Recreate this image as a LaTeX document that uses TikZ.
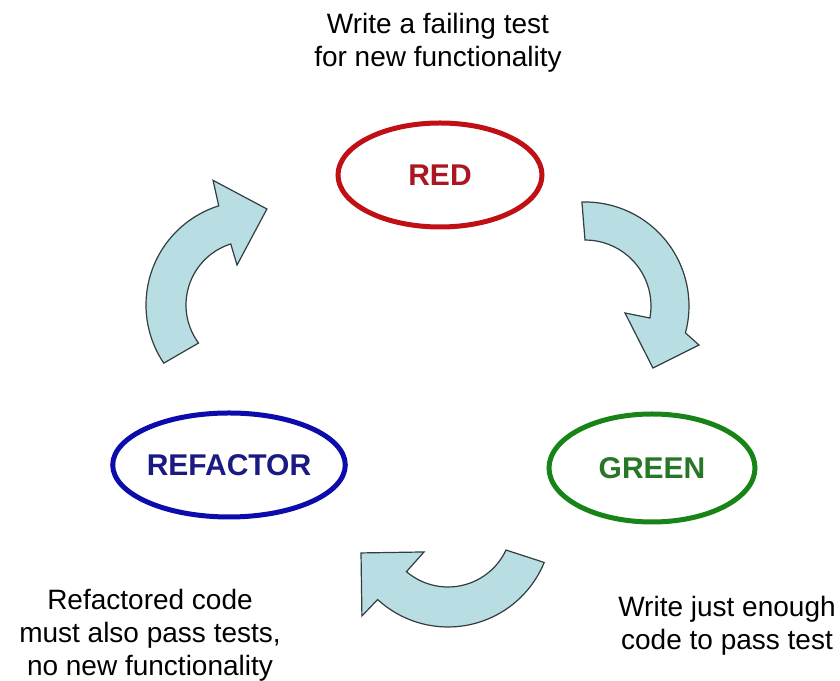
\documentclass[tikz,border=0pt]{standalone}
\usepackage{fontspec}
\setmainfont{Liberation Sans}
\usetikzlibrary{shapes.geometric}
\definecolor{redline}{RGB}{192,16,22}
\definecolor{redtext}{RGB}{172,22,34}
\definecolor{greenline}{RGB}{24,132,24}
\definecolor{greentext}{RGB}{40,118,40}
\definecolor{blueline}{RGB}{12,12,172}
\definecolor{bluetext}{RGB}{26,26,130}
\definecolor{arrowfill}{RGB}{184,221,227}
\definecolor{arrowline}{RGB}{50,62,62}
\tikzset{
  phase/.style={ellipse, line width=3.75pt, inner sep=0pt,
    font=\bfseries\fontsize{22.5}{27}\selectfont},
  note/.style={align=center, inner sep=0pt, anchor=base,
    font=\fontsize{21}{25}\selectfont},
  cyclearrow/.style={fill=arrowfill, draw=arrowline, line width=0.9pt, line join=miter}
}
\begin{document}
\begin{tikzpicture}[x=0.75pt, y=0.75pt]
\useasboundingbox (0,0) rectangle (840,681);

% phase ellipses
\node[phase, draw=redline, text=redtext, minimum width=153pt, minimum height=78pt] (red) at (440,506) {RED};
\node[phase, draw=greenline, text=greentext, minimum width=154.5pt, minimum height=81pt] (green) at (652,213) {GREEN};
\node[phase, draw=blueline, text=bluetext, minimum width=156pt, minimum height=78pt] (refactor) at (229,216) {REFACTOR};

% notes (base anchor = baseline of the last line)
\node[note] (rednote) at (438,614) {Write a failing test\\for new functionality};
\node[note] (greennote) at (727,31) {Write just enough\\code to pass test};
\node[note] (refnote) at (150,5) {Refactored code\\must also pass tests,\\no new functionality};

% curved block arrows (clockwise cycle)
\begin{scope}[shift={(250,376)}]
  \draw[cyclearrow] (214:104) arc[start angle=214, end angle=107.5, radius=104]
    -- (106.5:130) -- (80:97.5) -- (108:42) -- (107.5:64)
    arc[start angle=107.5, end angle=216.5, radius=64] -- cycle;
\end{scope}
\begin{scope}[shift={(585,375)}]
  \draw[cyclearrow] (91.7:104) arc[start angle=91.7, end angle=-15, radius=104]
    -- (-18.9:120.5) -- (-42.4:92) -- (-9.9:40.6) -- (-10.5:66)
    arc[start angle=-10.5, end angle=90, radius=66] -- cycle;
\end{scope}
\begin{scope}[shift={(448,158)}]
  \draw[cyclearrow] (-22.3:104) arc[start angle=-22.3, end angle=-132.6, radius=104]
    -- (-132.8:126.7) -- (-161:92) -- (-129.6:37.6) -- (-130.5:64)
    arc[start angle=-130.5, end angle=-25, radius=64] -- cycle;
\end{scope}
\end{tikzpicture}
\end{document}
